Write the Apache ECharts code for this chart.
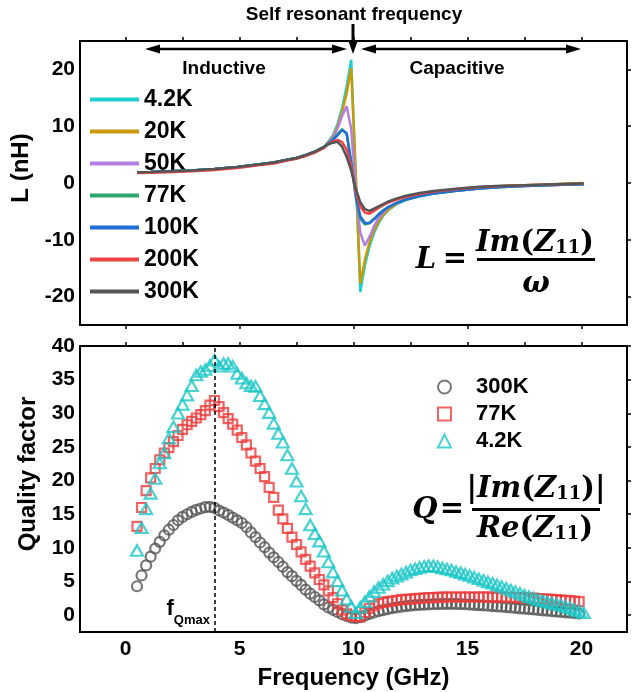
<!DOCTYPE html>
<html><head><meta charset="utf-8">
<script src="https://cdn.jsdelivr.net/npm/echarts@6/dist/echarts.min.js"></script>
<style>html,body{margin:0;padding:0;background:#fff}#c{width:632px;height:692px}</style>
</head><body><div id="c"></div>
<script>
// ---------- Top panel: inductance L (nH) vs frequency (GHz) ----------
const freqL = [0.5, 1.1, 1.9, 2.9, 3.9, 4.9, 5.9, 6.5, 7.1, 7.5, 7.9, 8.3, 8.5, 8.7,
  8.9, 9.1, 9.3, 9.5, 9.7, 9.9, 10.1, 10.3, 10.5, 10.7, 10.9, 11.1, 11.3, 11.5,
  11.9, 12.3, 12.9, 13.5, 14.5, 15.5, 16.5, 17.5, 18.5, 19.5, 20.1];
const L_4_2K = [1.9, 1.95, 2.05, 2.2, 2.45, 2.8, 3.3, 3.6, 4.1, 4.4, 4.9, 5.5, 5.9, 6.3,
  7.3, 8.4, 10.4, 13.2, 17.0, 21.7, 1.2, -19.2, -14.5, -11.2, -8.8, -7.1, -5.8, -4.9,
  -3.7, -3.0, -2.35, -1.9, -1.35, -0.95, -0.68, -0.48, -0.33, -0.2, -0.15];
const L_20K = [1.9, 1.95, 2.05, 2.2, 2.45, 2.8, 3.3, 3.6, 4.1, 4.4, 4.9, 5.5, 5.9, 6.3,
  7.2, 8.2, 10.0, 12.5, 15.8, 20.2, 1.2, -17.7, -13.5, -10.5, -8.3, -6.8, -5.6, -4.8,
  -3.6, -2.9, -2.25, -1.8, -1.25, -0.85, -0.58, -0.4, -0.26, -0.1, 0.0];
const L_50K = [1.9, 1.95, 2.05, 2.2, 2.45, 2.8, 3.3, 3.6, 4.1, 4.4, 4.9, 5.5, 5.9, 6.3,
  7.1, 8.0, 9.6, 11.8, 13.5, 9.5, -1.3, -8.8, -11.0, -9.5, -7.6, -6.2, -5.2, -4.4,
  -3.5, -2.9, -2.3, -1.85, -1.35, -0.95, -0.7, -0.52, -0.38, -0.27, -0.22];
const L_77K = [1.9, 1.95, 2.05, 2.2, 2.45, 2.8, 3.3, 3.6, 4.1, 4.4, 4.9, 5.5, 5.9, 6.3,
  7.0, 7.7, 8.6, 9.5, 8.6, 3.8, -2.5, -6.3, -7.3, -7.0, -6.3, -5.5, -4.8, -4.3,
  -3.5, -2.9, -2.3, -1.85, -1.35, -0.95, -0.7, -0.52, -0.38, -0.27, -0.22];
const L_100K = [1.9, 1.95, 2.05, 2.2, 2.45, 2.8, 3.3, 3.6, 4.1, 4.4, 4.9, 5.5, 5.9, 6.3,
  7.0, 7.6, 8.4, 9.3, 8.8, 3.5, -2.3, -5.9, -7.0, -7.1, -6.4, -5.6, -4.9, -4.3,
  -3.5, -2.9, -2.3, -1.85, -1.35, -0.95, -0.7, -0.52, -0.38, -0.27, -0.23];
const L_200K = [1.75, 1.8, 1.9, 2.05, 2.3, 2.65, 3.15, 3.45, 3.95, 4.25, 4.75, 5.35, 5.75, 6.15,
  6.9, 7.3, 7.6, 7.2, 5.9, 2.9, -1.5, -4.2, -5.2, -5.4, -4.9, -4.4, -3.9, -3.5,
  -2.9, -2.45, -1.95, -1.55, -1.1, -0.75, -0.55, -0.4, -0.28, -0.18, -0.12];
const L_300K = [1.9, 1.95, 2.05, 2.2, 2.45, 2.8, 3.3, 3.6, 4.1, 4.4, 4.9, 5.5, 5.9, 6.3,
  6.8, 7.1, 7.25, 6.4, 4.6, 2.2, -1.0, -3.4, -4.6, -4.9, -4.5, -4.1, -3.7, -3.3,
  -2.7, -2.25, -1.75, -1.4, -1.0, -0.65, -0.48, -0.38, -0.25, -0.15, -0.1];
const namesL = ['4.2K', '20K', '50K', '77K', '100K', '200K', '300K'];

// ---------- Bottom panel: quality factor vs frequency (GHz) ----------
const freqQ = [0.5,0.7,0.9,1.1,1.3,1.5,1.7,1.9,2.1,2.3,
  2.5,2.7,2.9,3.1,3.3,3.5,3.7,3.9,4.1,4.3,
  4.5,4.7,4.9,5.1,5.3,5.5,5.7,5.9,6.1,6.3,
  6.5,6.7,6.9,7.1,7.3,7.5,7.7,7.9,8.1,8.3,
  8.5,8.7,8.9,9.1,9.3,9.5,9.7,9.9,10.1,10.3,
  10.5,10.7,10.9,11.1,11.3,11.5,11.7,11.9,12.1,12.3,
  12.5,12.7,12.9,13.1,13.3,13.5,13.7,13.9,14.1,14.3,
  14.5,14.7,14.9,15.1,15.3,15.5,15.7,15.9,16.1,16.3,
  16.5,16.7,16.9,17.1,17.3,17.5,17.7,17.9,18.1,18.3,
  18.5,18.7,18.9,19.1,19.3,19.5,19.7,19.9,20.1];
const Q_300K = [4.3, 5.9, 7.4, 8.7, 9.9, 10.9, 11.85, 12.7, 13.4, 14.1,
  14.6, 15.0, 15.35, 15.65, 15.85, 16.05, 16.1, 15.95, 15.55, 15.25,
  14.9, 14.5, 14.1, 13.7, 13.1, 12.3, 11.6, 10.8, 10.1, 9.3,
  8.6, 7.9, 7.2, 6.4, 5.8, 5.1, 4.5, 3.8, 3.2, 2.7,
  2.2, 1.6, 1.15, 0.8, 0.47, 0.15, -0.12, -0.35, -0.45, -0.3,
  -0.05, 0.2, 0.4, 0.6, 0.75, 0.9, 1.05, 1.15, 1.25, 1.35,
  1.42, 1.48, 1.53, 1.57, 1.6, 1.63, 1.65, 1.67, 1.68, 1.68,
  1.67, 1.65, 1.62, 1.58, 1.54, 1.5, 1.45, 1.4, 1.35, 1.3,
  1.25, 1.2, 1.14, 1.08, 1.02, 0.96, 0.9, 0.84, 0.78, 0.72,
  0.66, 0.6, 0.54, 0.48, 0.42, 0.36, 0.3, 0.24, null];
const Q_77K = [13.2, 16.0, 18.5, 20.4, 21.8, 23.1, 24.1, 24.9, 25.8, 26.7,
  27.6, 28.3, 28.8, 29.3, 29.8, 30.4, 31.2, 31.9, 31.0, 30.1,
  29.2, 28.4, 27.5, 26.4, 25.3, 24.1, 22.9, 21.8, 20.6, 19.0,
  17.5, 15.6, 14.3, 12.9, 11.6, 10.5, 9.4, 8.3, 7.3, 6.3,
  5.3, 4.5, 3.6, 2.6, 1.7, 0.8, 0.2, -0.1, -0.2, -0.25,
  0.4, 1.0, 1.4, 1.7, 1.9, 2.0, 2.1, 2.2, 2.3, 2.35,
  2.4, 2.45, 2.5, 2.55, 2.6, 2.62, 2.65, 2.68, 2.7, 2.7,
  2.7, 2.7, 2.7, 2.7, 2.7, 2.7, 2.7, 2.7, 2.69, 2.68,
  2.68, 2.66, 2.64, 2.62, 2.6, 2.58, 2.55, 2.52, 2.48, 2.44,
  2.4, 2.35, 2.3, 2.25, 2.2, 2.15, 2.1, 2.0, null];
const Q_4_2K = [9.6, 13.0, 15.8, 18.1, 20.3, 22.6, 24.1, 26.3, 28.0, 30.0,
  31.3, 32.7, 34.1, 35.7, 36.2, 36.5, 37.1, 37.9, 37.0, 37.4,
  37.4, 37.0, 35.9, 35.2, 34.5, 34.1, 34.0, 32.6, 31.4, 30.1,
  28.5, 27.0, 25.7, 23.8, 21.8, 19.9, 17.7, 15.8, 13.4, 12.1,
  11.0, 9.5, 7.9, 6.4, 5.1, 3.7, 2.4, 1.3, 0.35, 1.2,
  2.0, 2.8, 3.5, 4.1, 4.6, 5.1, 5.5, 5.8, 6.1, 6.4,
  6.7, 6.9, 7.1, 7.25, 7.35, 7.3, 7.2, 7.0, 6.85, 6.7,
  6.5, 6.3, 6.1, 5.9, 5.65, 5.4, 5.2, 4.95, 4.75, 4.5,
  4.25, 4.0, 3.75, 3.5, 3.25, 3.0, 2.75, 2.55, 2.35, 2.15,
  1.95, 1.8, 1.65, 1.5, 1.3, 1.1, 0.85, 0.6, 0.35];
const namesQ = ['300K', '77K', '4.2K'];
const fQmax = 3.9;

// ---------- tick labels ----------
const xTickVals = [0, 5, 10, 15, 20];
const xTopTickVals = [0, 2.5, 5, 7.5, 10, 12.5, 15, 17.5, 20];
const yTickValsL = [-20, -10, 0, 10, 20];
const yTickValsQ = [0, 5, 10, 15, 20, 25, 30, 35, 40];

// ---------- styling ----------
const FONT = '"Liberation Sans", Arial, sans-serif';
const MATH = '"DejaVu Serif", serif';
const colorsL = ['#1fcfcf', '#c99a06', '#b37fe0', '#2da86b', '#1f6fd6', '#ef4444', '#555555'];
const colorsQ = ['#555555', '#ee3b3b', '#1cc7c7'];
const symbolsQ = ['circle', 'rect', 'triangle'];
const sizesQ = [10, 9, [12, 10.5]];
const valsL = [L_4_2K, L_20K, L_50K, L_77K, L_100K, L_200K, L_300K];
const valsQ = [Q_300K, Q_77K, Q_4_2K];

const tickStyle = {color: '#000', width: 1.5};
function xAx(grid, pos, ticks, labels) {
  return {
    gridIndex: grid, type: 'value', min: -2, max: 22, position: pos,
    axisLine: {show: false, onZero: false}, splitLine: {show: false},
    axisTick: {show: ticks !== null, inside: false, length: 4, lineStyle: tickStyle, customValues: ticks || []},
    axisLabel: labels ? {show: true, customValues: xTickVals, fontSize: 21, fontWeight: 'bold', color: '#000', fontFamily: FONT, margin: 7} : {show: false}
  };
}

const chart = echarts.init(document.getElementById('c'), null, {renderer: 'canvas'});

const series = [];
namesL.forEach((n, i) => {
  series.push({
    name: n, type: 'line', xAxisIndex: 0, yAxisIndex: 0,
    data: freqL.map((f, k) => [f, valsL[i][k]]),
    symbol: 'none', lineStyle: {width: 2.5, color: colorsL[i]}, itemStyle: {color: colorsL[i]},
    z: 2 + i
  });
});
namesQ.forEach((n, i) => {
  const s = {
    name: 'Q' + n, type: 'scatter', xAxisIndex: 2, yAxisIndex: 2,
    data: freqQ.map((f, k) => [f, valsQ[i][k]]).filter(d => d[1] !== null),
    symbol: symbolsQ[i], symbolSize: sizesQ[i],
    itemStyle: {color: 'rgba(255,255,255,0)', borderColor: colorsQ[i], borderWidth: 2.2},
    z: 2 + i
  };
  if (i === 0) {
    s.markLine = {
      silent: true, symbol: ['none', 'none'], label: {show: false},
      lineStyle: {color: '#000', type: [4, 3], width: 1.5},
      data: [{xAxis: fQmax}]
    };
  }
  series.push(s);
});

const mathRich = {
  i: {fontFamily: MATH, fontStyle: 'italic', fontWeight: 'bold', fontSize: 29, fill: '#000'},
  p: {fontFamily: MATH, fontWeight: 'bold', fontSize: 29, fill: '#000'},
  s: {fontFamily: MATH, fontWeight: 'bold', fontSize: 18, fill: '#000', verticalAlign: 'bottom'}
};
function txt(text, x, y, font, align) {
  return {type: 'text', z: 100, x: x, y: y,
    style: {text: text, font: font, fill: '#000', align: align || 'center', verticalAlign: 'middle'}};
}
function mtxt(text, x, y) {
  return {type: 'text', z: 100, x: x, y: y,
    style: {text: text, rich: mathRich, align: 'center', verticalAlign: 'middle', fill: '#000'}};
}
const hd = {fill: '#000'};
const graphic = [
  txt('Self resonant frequency', 354, 15, 'bold 19px ' + FONT),
  {type: 'line', z: 100, shape: {x1: 353, y1: 24, x2: 353, y2: 42}, style: {stroke: '#000', lineWidth: 3}},
  {type: 'polygon', z: 100, shape: {points: [[348, 40], [358, 40], [353, 54]]}, style: hd},
  {type: 'line', z: 100, shape: {x1: 152, y1: 49, x2: 340, y2: 49}, style: {stroke: '#000', lineWidth: 2.5}},
  {type: 'polygon', z: 100, shape: {points: [[145, 49], [160, 44.5], [160, 53.5]]}, style: hd},
  {type: 'polygon', z: 100, shape: {points: [[347, 49], [332, 44.5], [332, 53.5]]}, style: hd},
  {type: 'line', z: 100, shape: {x1: 368, y1: 49, x2: 574, y2: 49}, style: {stroke: '#000', lineWidth: 2.5}},
  {type: 'polygon', z: 100, shape: {points: [[361, 49], [376, 44.5], [376, 53.5]]}, style: hd},
  {type: 'polygon', z: 100, shape: {points: [[581, 49], [566, 44.5], [566, 53.5]]}, style: hd},
  txt('Inductive', 224, 69, 'bold 19px ' + FONT),
  txt('Capacitive', 457, 69, 'bold 19px ' + FONT),
  // L formula
  txt('L', 426, 260, 'italic bold 29px ' + MATH),
  txt('=', 455, 259, 'bold 29px ' + MATH),
  mtxt('{i|Im}{p|(}{i|Z}{s|11}{p|)}', 535, 243),
  {type: 'rect', z: 100, shape: {x: 477, y: 258, width: 118, height: 3}, style: hd},
  txt('ω', 536, 284, 'italic bold 29px ' + MATH),
  // Q formula
  txt('Q', 425, 510, 'italic bold 29px ' + MATH),
  txt('=', 452, 509, 'bold 29px ' + MATH),
  mtxt('{p||}{i|Im}{p|(}{i|Z}{s|11}{p|)|}', 536, 489),
  {type: 'rect', z: 100, shape: {x: 472, y: 508, width: 128, height: 3}, style: hd},
  mtxt('{i|Re}{p|(}{i|Z}{s|11}{p|)}', 535, 529),
  // f_Qmax label
  {type: 'text', z: 100, x: 210, y: 627,
    style: {text: '{f|f}{s|Qmax}', align: 'right', verticalAlign: 'bottom',
      rich: {f: {fontFamily: FONT, fontWeight: 'bold', fontSize: 22, fill: '#000', verticalAlign: 'bottom', padding: [0, 0, 7, 0]},
             s: {fontFamily: FONT, fontWeight: 'bold', fontSize: 13, fill: '#000', verticalAlign: 'bottom'}}}}
];

const yBase = {type: 'value', axisLine: {show: false, onZero: false}, splitLine: {show: false}};
const option = {
  animation: false,
  backgroundColor: '#fff',
  textStyle: {fontFamily: FONT},
  grid: [
    {left: 80, right: 5, top: 41, height: 284, show: true, borderColor: '#000', borderWidth: 2, backgroundColor: 'transparent'},
    {left: 80, right: 5, top: 346, height: 286, show: true, borderColor: '#000', borderWidth: 2, backgroundColor: 'transparent'}
  ],
  xAxis: [
    xAx(0, 'bottom', xTickVals, false),
    xAx(0, 'top', xTopTickVals, false),
    Object.assign(xAx(1, 'bottom', null, true), {
      name: 'Frequency (GHz)', nameLocation: 'middle', nameGap: 34,
      nameTextStyle: {fontSize: 24, fontWeight: 'bold', color: '#000', fontFamily: FONT}
    }),
    xAx(1, 'top', xTopTickVals, false)
  ],
  yAxis: [
    Object.assign({gridIndex: 0, min: -25, max: 25, position: 'left', axisTick: {show: false},
      axisLabel: {customValues: yTickValsL, fontSize: 21, fontWeight: 'bold', color: '#000', fontFamily: FONT, margin: 5},
      name: 'L (nH)', nameLocation: 'middle', nameGap: 40,
      nameTextStyle: {fontSize: 24, fontWeight: 'bold', color: '#000', fontFamily: FONT, padding: [0, 0, 0, 30]}}, yBase),
    Object.assign({gridIndex: 0, min: -25, max: 25, position: 'right', axisLabel: {show: false},
      axisTick: {show: true, length: 4, lineStyle: tickStyle, customValues: yTickValsL}}, yBase),
    Object.assign({gridIndex: 1, min: -2.5, max: 40, position: 'left', axisTick: {show: false},
      axisLabel: {customValues: yTickValsQ, fontSize: 21, fontWeight: 'bold', color: '#000', fontFamily: FONT, margin: 5},
      name: 'Quality factor', nameLocation: 'middle', nameGap: 40,
      nameTextStyle: {fontSize: 24, fontWeight: 'bold', color: '#000', fontFamily: FONT, padding: [0, 0, 0, 30]}}, yBase),
    Object.assign({gridIndex: 1, min: -2.5, max: 40, position: 'right', axisLabel: {show: false},
      axisTick: {show: true, length: 4, lineStyle: tickStyle, customValues: yTickValsQ}}, yBase)
  ],
  legend: [
    {data: namesL, orient: 'vertical', left: 85, top: 83, itemGap: 9, itemWidth: 49, itemHeight: 4,
      icon: 'rect', selectedMode: false,
      textStyle: {fontSize: 23, fontWeight: 'bold', color: '#000', fontFamily: FONT, padding: [0, 0, 0, 0]}},
    {data: namesQ.map(n => 'Q' + n), orient: 'vertical', left: 432, top: 371, itemGap: 5, itemWidth: 13, itemHeight: 13,
      selectedMode: false, formatter: n => n.slice(1),
      textStyle: {fontSize: 22, fontWeight: 'bold', color: '#000', fontFamily: FONT, padding: [0, 0, 0, 20]}}
  ],
  series: series,
  graphic: graphic
};
chart.setOption(option);
</script></body></html>
